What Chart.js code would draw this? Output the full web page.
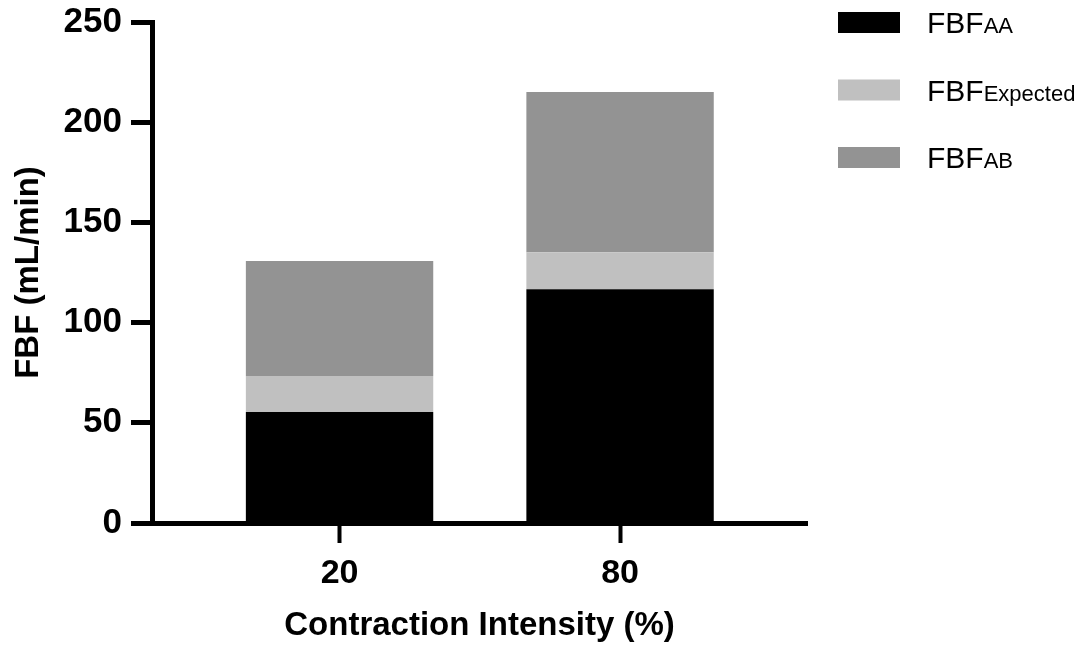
<!DOCTYPE html>
<html>
<head>
<meta charset="utf-8">
<script src="https://cdn.jsdelivr.net/npm/chart.js@4/dist/chart.umd.min.js"></script>
<style>
  html, body { margin: 0; padding: 0; background: #fff; }
  #wrap { width: 1086px; height: 648px; }
</style>
</head>
<body>
<div id="wrap"><canvas id="fbfChart" width="1086" height="648"></canvas></div>
<script>
// data
var categories   = ["20", "80"];
var fbfAA        = [55.4, 116.6];
var fbfExpected  = [18.0, 18.5];
var fbfAB        = [57.3, 80.0];
var legendMain   = "FBF";
var legendSubs   = ["AA", "Expected", "AB"];
var yTicks       = [0, 50, 100, 150, 200, 250];

var FONT = '"Liberation Sans", Arial, Helvetica, sans-serif';

/**
 * legend with subscript text (drawn on canvas)
 */
var subLegend = {
    id: "subLegend",
    afterDraw: function(chart) {
        var ctx = chart.ctx;
        ctx.save();
        chart.data.datasets.forEach(function(ds, i) {
            var y = 12 + i * 67.5;
            ctx.fillStyle = ds.backgroundColor;
            ctx.fillRect(838, y, 62, 21);
            ctx.fillStyle = "#000";
            ctx.textBaseline = "alphabetic";
            ctx.textAlign = "left";
            ctx.font = "30px " + FONT;
            ctx.fillText(legendMain, 927, y + 21);
            var w = ctx.measureText(legendMain).width;
            ctx.font = "22px " + FONT;
            ctx.fillText(legendSubs[i], 927 + w, y + 21);
        });
        ctx.restore();
    }
};

var ctx = document.getElementById("fbfChart").getContext("2d");
new Chart(ctx, {
    type: "bar",
    data: {
        labels: categories,
        datasets: [
            { label: legendMain + legendSubs[0], data: fbfAA,       backgroundColor: "#000000" },
            { label: legendMain + legendSubs[1], data: fbfExpected, backgroundColor: "#c0c0c0" },
            { label: legendMain + legendSubs[2], data: fbfAB,       backgroundColor: "#939393" }
        ]
    },
    options: {
        responsive: false,
        animation: false,
        devicePixelRatio: 1,
        categoryPercentage: 1,
        barPercentage: 0.668,
        layout: { padding: { top: 22, right: 279, bottom: 0, left: 0 } },
        plugins: {
            legend: { display: false },
            tooltip: { enabled: false }
        },
        scales: {
            x: {
                stacked: true,
                offset: false,
                afterBuildTicks: function(scale) {
                    // leave wide margins either side of the two bars
                    scale._startValue = -0.6686;
                    scale._valueRange = 2.335;
                },
                afterFit: function(scale) {
                    scale.height = 125;
                    scale.paddingLeft = 0;
                    scale.paddingRight = 0;
                },
                grid: {
                    display: true,
                    offset: false,
                    drawOnChartArea: false,
                    drawTicks: true,
                    tickLength: 20,
                    tickWidth: 4,
                    tickColor: "#000"
                },
                border: { display: true, color: "#000", width: 5 },
                ticks: {
                    color: "#000",
                    padding: 10,
                    font: { family: FONT, size: 34, weight: "bold" }
                },
                title: {
                    display: true,
                    text: "Contraction Intensity (%)",
                    color: "#000",
                    padding: { top: 0, bottom: 2 },
                    font: { family: FONT, size: 33, weight: "bold" }
                }
            },
            y: {
                stacked: true,
                min: 0,
                max: 250,
                afterBuildTicks: function(scale) {
                    scale.ticks = yTicks.map(function(v) { return { value: v }; });
                },
                afterFit: function(scale) {
                    scale.width = 152;
                    scale.paddingTop = 0;
                    scale.paddingBottom = 0;
                },
                grid: {
                    display: true,
                    drawOnChartArea: false,
                    drawTicks: true,
                    tickLength: 21,
                    tickWidth: 5,
                    tickColor: "#000"
                },
                border: { display: true, color: "#000", width: 5 },
                ticks: {
                    color: "#000",
                    padding: 9,
                    font: { family: FONT, size: 35, weight: "bold" }
                },
                title: {
                    display: true,
                    text: "FBF (mL/min)",
                    color: "#000",
                    padding: { top: 9, bottom: 0 },
                    font: { family: FONT, size: 33, weight: "bold" }
                }
            }
        }
    },
    plugins: [subLegend]
});
</script>
</body>
</html>
